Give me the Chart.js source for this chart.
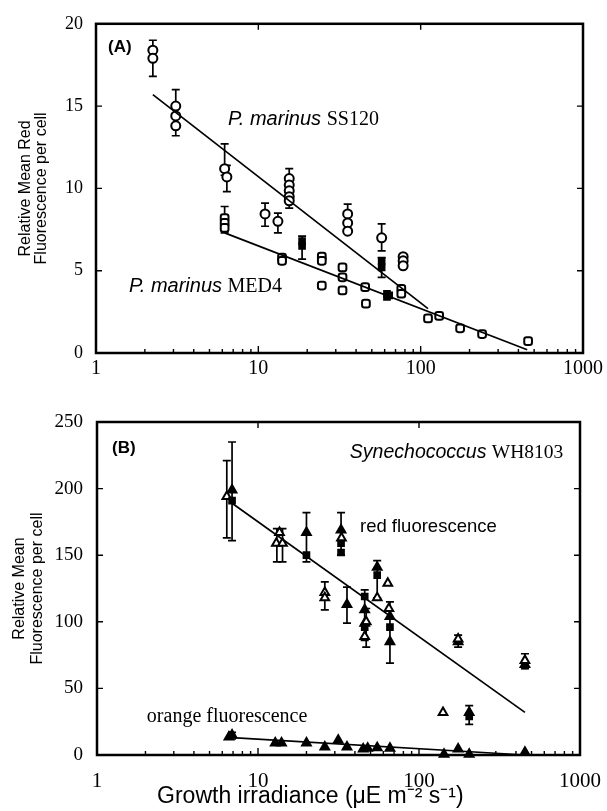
<!DOCTYPE html>
<html>
<head>
<meta charset="utf-8">
<script src="https://cdn.jsdelivr.net/npm/chart.js@4"></script>
<style>
html,body{margin:0;padding:0;background:#fff;width:607px;height:811px;overflow:hidden}
canvas{position:absolute;left:0;display:block}
</style>
</head>
<body>
<canvas id="chartA" width="607" height="395" style="top:0"></canvas>
<canvas id="chartB" width="607" height="416" style="top:395px"></canvas>
<script>
// ---------- shared ----------
const xTickValues = [1, 10, 100, 1000];

// ---------- Panel A ----------
const aYTicks = [0, 5, 10, 15, 20];
const ss120X = [2.24, 2.24, 3.1, 3.1, 3.1, 6.2, 6.4, 11.0, 13.2, 15.5, 15.5, 15.5, 15.5, 15.5, 35.5, 35.5, 35.5, 57.5, 78, 78, 78];
const ss120Y = [18.4, 17.9, 15.0, 14.4, 13.8, 11.2, 10.7, 8.45, 8.0, 10.6, 10.2, 9.85, 9.5, 9.25, 8.45, 7.9, 7.4, 7.0, 5.85, 5.6, 5.3];
const ss120ErrX  = [2.24, 3.1, 6.2, 6.4, 11.0, 13.2, 15.5, 35.5, 57.5];
const ss120ErrLo = [16.8, 13.2, 10.8, 9.8, 7.7, 7.3, 8.8, 8.45, 6.2];
const ss120ErrHi = [19.0, 16.0, 12.7, 11.4, 9.1, 8.5, 11.2, 9.05, 7.85];

const med4OpenX = [6.2, 6.2, 6.2, 14, 14, 24.6, 24.6, 24.6, 33, 33, 33, 45.5, 46, 76, 76, 111, 130, 175, 239, 459];
const med4OpenY = [8.2, 7.9, 7.6, 5.8, 5.6, 5.85, 5.6, 4.1, 5.2, 4.6, 3.8, 4.0, 3.0, 3.9, 3.6, 2.1, 2.25, 1.5, 1.15, 0.72];
const med4FillX = [18.6, 18.6, 57.5, 57.5, 62, 62, 64];
const med4FillY = [6.8, 6.5, 5.6, 5.2, 3.6, 3.4, 3.5];
const med4ErrX  = [6.2, 18.6, 57.5];
const med4ErrLo = [7.3, 5.7, 4.6];
const med4ErrHi = [8.9, 7.1, 5.8];

const ss120LineX = [2.24, 111];
const ss120LineY = [15.7, 2.7];
const med4LineX = [6.2, 453];
const med4LineY = [7.3, 0.2];

// ---------- Panel B ----------
const bYTicks = [0, 50, 100, 150, 200, 250];
const redOpenX = [6.4, 13.0, 14.2, 13.6, 26, 26, 33, 46, 47, 55, 64, 65, 141, 175, 455];
const redOpenY = [194, 159, 159, 167, 122, 118, 163, 89, 100, 118, 129, 110, 32, 87, 71];
const redFillTriX = [6.9, 20, 32.8, 35.7, 46, 46, 55, 66, 66, 175, 205, 455];
const redFillTriY = [199, 167, 169, 113, 109, 99, 141, 104, 85, 85, 32, 68];
const redSqX = [6.9, 20, 32.8, 32.8, 46, 46, 55, 66, 205, 455];
const redSqY = [191, 150, 152, 159, 119, 96, 135, 96, 29, 67];
const redErrX  = [6.4, 6.9, 13.1, 14.2, 20, 26, 32.8, 35.7, 46, 47, 55, 66, 175, 205, 455];
const redErrLo = [163, 161, 145, 145, 145, 109, 150, 99, 86, 81, 118, 69, 81, 23, 65];
const redErrHi = [221, 235, 170, 170, 182, 130, 182, 126, 124, 110, 146, 115, 90, 37, 76];

const orangeX = [6.6, 6.9, 12.8, 14, 20, 26, 31.5, 35.7, 45, 48, 55, 66, 143, 175, 205, 455];
const orangeY = [13.5, 15, 9, 9, 9, 6, 11, 6, 4.5, 5, 5.5, 5, 0.5, 4.5, 0.5, 2];
const orangeErrX  = [6.9];
const orangeErrLo = [12];
const orangeErrHi = [17];

const redLineX = [6.9, 455];
const redLineY = [189, 32];
const orangeLineX = [6.9, 455];
const orangeLineY = [13, 0];

// ---------- helpers ----------
const pts = (xs, ys) => xs.map((x, i) => ({x: x, y: ys[i]}));
const SERIF = '"Liberation Serif", "Times New Roman", serif';
const SANS = '"Liberation Sans", Arial, sans-serif';

function scatterSet(xs, ys, style, filled, r) {
  return {
    type: 'scatter', data: pts(xs, ys), pointStyle: style,
    pointRadius: r, pointHoverRadius: r,
    backgroundColor: filled ? '#000' : '#fff', borderColor: '#000',
    pointBorderWidth: 2, clip: false
  };
}
function lineSet(xs, ys) {
  return {
    type: 'line', data: pts(xs, ys), borderColor: '#000', borderWidth: 1.7,
    pointRadius: 0, fill: false, tension: 0, clip: false
  };
}

// per-chart decorations (error bars, frame ticks, annotations)
const decor = {
  chartA: {
    yTicks: aYTicks,
    errors: [
      {x: ss120ErrX, lo: ss120ErrLo, hi: ss120ErrHi},
      {x: med4ErrX, lo: med4ErrLo, hi: med4ErrHi}
    ],
    notes: [
      {x: 1.186, y: 18.55, parts: [{t: '(A)', f: 'bold 17px ' + SANS}]},
      {x: 6.51, y: 14.2, parts: [{t: 'P. marinus ', f: 'italic 20px ' + SANS}, {t: 'SS120', f: '20px ' + SERIF}]},
      {x: 1.597, y: 4.05, parts: [{t: 'P. marinus ', f: 'italic 20px ' + SANS}, {t: 'MED4', f: '20px ' + SERIF}]}
    ]
  },
  chartB: {
    yTicks: bYTicks,
    errors: [
      {x: redErrX, lo: redErrLo, hi: redErrHi},
      {x: orangeErrX, lo: orangeErrLo, hi: orangeErrHi}
    ],
    notes: [
      {x: 1.24, y: 230.5, parts: [{t: '(B)', f: 'bold 17px ' + SANS}]},
      {x: 37.2, y: 226.7, parts: [{t: 'Synechococcus ', f: 'italic 19.5px ' + SANS}, {t: 'WH8103', f: '19.5px ' + SERIF}]},
      {x: 43, y: 171, parts: [{t: 'red fluorescence', f: '18.5px ' + SANS}]},
      {x: 2.04, y: 28.5, parts: [{t: 'orange fluorescence', f: '20px ' + SERIF}]},
      {x: 2.36, y: -31.5, parts: [{t: 'Growth irradiance (\u03bcE m\u207b\u00b2 s\u207b\u00b9)', f: '23px ' + SANS}]}
    ]
  }
};

const decorPlugin = {
  id: 'decor',
  beforeDatasetsDraw(chart) {
    const d = decor[chart.canvas.id]; if (!d) return;
    const ctx = chart.ctx, xs = chart.scales.x, ys = chart.scales.y;
    ctx.save();
    ctx.strokeStyle = '#000'; ctx.lineWidth = 1.7;
    d.errors.forEach(e => {
      for (let i = 0; i < e.x.length; i++) {
        const px = xs.getPixelForValue(e.x[i]);
        const p1 = ys.getPixelForValue(e.lo[i]), p2 = ys.getPixelForValue(e.hi[i]);
        ctx.beginPath();
        ctx.moveTo(px, p1); ctx.lineTo(px, p2);
        ctx.moveTo(px - 4, p1); ctx.lineTo(px + 4, p1);
        ctx.moveTo(px - 4, p2); ctx.lineTo(px + 4, p2);
        ctx.stroke();
      }
    });
    ctx.restore();
  },
  afterDraw(chart) {
    const d = decor[chart.canvas.id]; if (!d) return;
    const ctx = chart.ctx, xs = chart.scales.x, ys = chart.scales.y;
    const a = chart.chartArea;
    ctx.save();
    ctx.strokeStyle = '#000';
    // frame
    ctx.lineWidth = 2.5;
    ctx.strokeRect(a.left, a.top, a.right - a.left, a.bottom - a.top);
    // x ticks (inward)
    ctx.lineWidth = 1.4;
    ctx.beginPath();
    for (let dec = 1; dec < 1000; dec *= 10) {
      for (let m = 1; m <= 9; m++) {
        const v = dec * m;
        if (v <= 1 || v >= 1000) continue;
        const px = xs.getPixelForValue(v);
        const major = (m === 1);
        ctx.moveTo(px, a.bottom); ctx.lineTo(px, a.bottom - (major ? 7 : 4));
        if (major) { ctx.moveTo(px, a.top); ctx.lineTo(px, a.top + 6); }
      }
    }
    // y ticks (inward, both sides)
    d.yTicks.forEach(v => {
      const py = ys.getPixelForValue(v);
      if (py <= a.top + 1 || py >= a.bottom - 1) return;
      ctx.moveTo(a.left, py); ctx.lineTo(a.left + 6, py);
      ctx.moveTo(a.right, py); ctx.lineTo(a.right - 6, py);
    });
    ctx.stroke();
    // annotations
    ctx.fillStyle = '#000';
    ctx.textBaseline = 'middle';
    ctx.textAlign = 'left';
    d.notes.forEach(n => {
      let px = xs.getPixelForValue(n.x);
      const py = ys.getPixelForValue(n.y);
      n.parts.forEach(p => {
        ctx.font = p.f;
        ctx.fillText(p.t, px, py);
        px += ctx.measureText(p.t).width;
      });
    });
    ctx.restore();
  }
};

function xScale(labelPad, fontSize, lineHeight, axisHeight) {
  return {
    type: 'logarithmic', min: 1, max: 1000,
    afterBuildTicks: s => { s.ticks = xTickValues.map(v => ({value: v})); },
    ticks: {
      callback: v => String(v), autoSkip: false, maxRotation: 0,
      padding: labelPad, color: '#000', font: {family: SERIF, size: fontSize, lineHeight: lineHeight}
    },
    grid: {display: false, drawTicks: false},
    border: {display: false},
    title: {display: false},
    afterFit: s => { s.height = axisHeight; }
  };
}
function yScale(max, ticks, width, labelPad, fontSize, title) {
  return {
    type: 'linear', min: 0, max: max,
    afterBuildTicks: s => { s.ticks = ticks.map(v => ({value: v})); },
    ticks: {padding: labelPad, color: '#000', font: {family: SERIF, size: fontSize}},
    grid: {display: false, drawTicks: false},
    border: {display: false},
    title: title,
    afterFit: s => { s.width = width; }
  };
}

const commonOpts = {
  responsive: false, animation: false, devicePixelRatio: 1,
  plugins: {legend: {display: false}, tooltip: {enabled: false}}
};

new Chart(document.getElementById('chartA'), {
  type: 'scatter',
  data: {
    datasets: [
      lineSet(ss120LineX, ss120LineY),
      lineSet(med4LineX, med4LineY),
      scatterSet(med4OpenX, med4OpenY, 'rectRounded', false, 4.5),
      scatterSet(med4FillX, med4FillY, 'rect', true, 4),
      scatterSet(ss120X, ss120Y, 'circle', false, 4.5)
    ]
  },
  options: Object.assign({}, commonOpts, {
    layout: {padding: {top: 22, right: 24, left: 0, bottom: 0}},
    scales: {
      x: xScale(4, 20, 1.2, 42),
      y: yScale(20, aYTicks, 96, 13, 18, {
        display: true, text: ['Relative Mean Red', 'Fluorescence per cell'],
        color: '#000', font: {family: SANS, size: 16, lineHeight: 1.0}, padding: {top: 18, bottom: 0}
      })
    }
  }),
  plugins: [decorPlugin]
});

new Chart(document.getElementById('chartB'), {
  type: 'scatter',
  data: {
    datasets: [
      lineSet(redLineX, redLineY),
      lineSet(orangeLineX, orangeLineY),
      scatterSet(redSqX, redSqY, 'rect', true, 4),
      scatterSet(redOpenX, redOpenY, 'triangle', false, 5),
      scatterSet(redFillTriX, redFillTriY, 'triangle', true, 5),
      scatterSet(orangeX, orangeY, 'triangle', true, 5)
    ]
  },
  options: Object.assign({}, commonOpts, {
    layout: {padding: {top: 27, right: 27, left: 0, bottom: 0}},
    scales: {
      x: xScale(6, 21, 1.96, 56),
      y: yScale(250, bYTicks, 97, 14, 19, {
        display: true, text: ['Relative Mean', 'Fluorescence per cell'],
        color: '#000', font: {family: SANS, size: 16, lineHeight: 1.1}, padding: {top: 11, bottom: 0}
      })
    }
  }),
  plugins: [decorPlugin]
});
</script>
</body>
</html>
